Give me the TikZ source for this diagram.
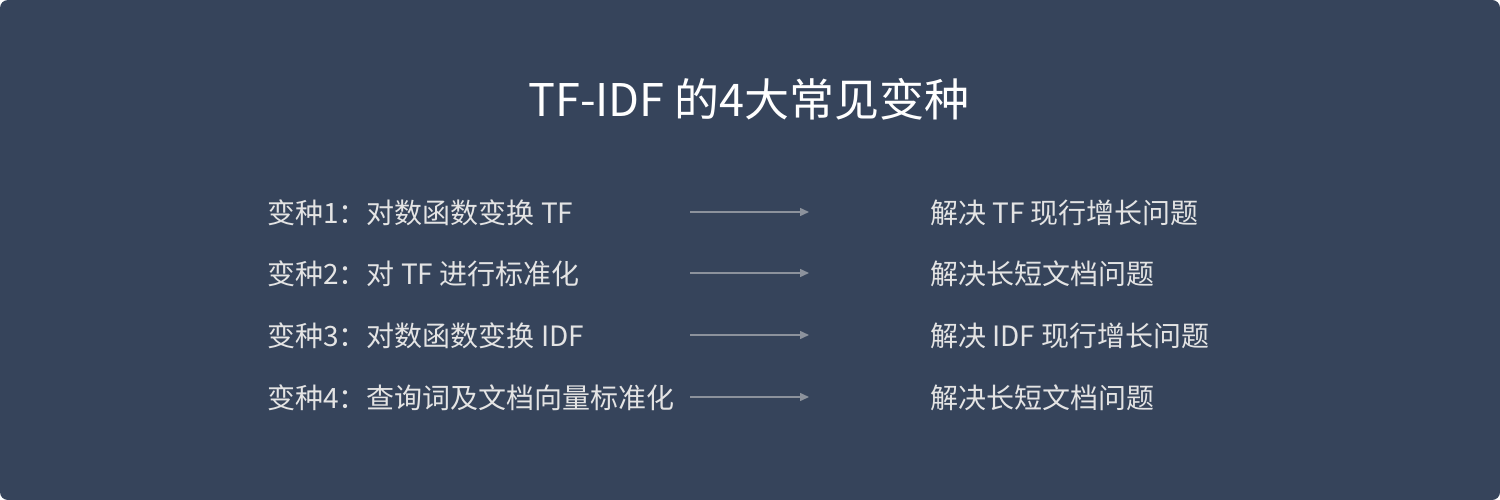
\documentclass[tikz,border=0pt]{standalone}
\usepackage{fontspec}
\setmainfont{Noto Sans CJK SC}
\usetikzlibrary{arrows.meta}
\usepackage{xcolor}
\definecolor{panel}{HTML}{36445B}
\definecolor{softtext}{HTML}{E4E4E4}
\definecolor{arrowgray}{HTML}{8C929C}

\begin{document}
\begin{tikzpicture}[x=1pt,y=-1pt,
    title/.style={text=white,inner sep=0pt,anchor=base,font=\fontsize{45}{54}\selectfont},
    item/.style={text=softtext,inner sep=0pt,anchor=base west,font=\fontsize{28}{34}\selectfont},
    link/.style={draw=arrowgray,line width=1.5pt,-{Triangle[length=9pt,width=8pt]}}]
    \fill[white] (0,0) rectangle (1500,500);
    \fill[panel,rounded corners=8pt] (0,0) rectangle (1500,500);
    \node[title] (head) at (749,117) {TF-IDF 的4大常见变种};
    \foreach \i/\y/\lhs/\rhs in {1/212/{变种1：对数函数变换 TF}/{解决 TF 现行增长问题},
                              2/273/{变种2：对 TF 进行标准化}/{解决长短文档问题},
                              3/335/{变种3：对数函数变换 IDF}/{解决 IDF 现行增长问题},
                              4/397/{变种4：查询词及文档向量标准化}/{解决长短文档问题}} {
        \node[item] (var\i) at (267,\y+11) {\lhs};
        \node[item] (fix\i) at (930,\y+11) {\rhs};
        \coordinate (from\i) at (690,\y);
        \coordinate (to\i) at (809,\y);
        \draw[link] (from\i) -- (to\i);
    }
\end{tikzpicture}
\end{document}
